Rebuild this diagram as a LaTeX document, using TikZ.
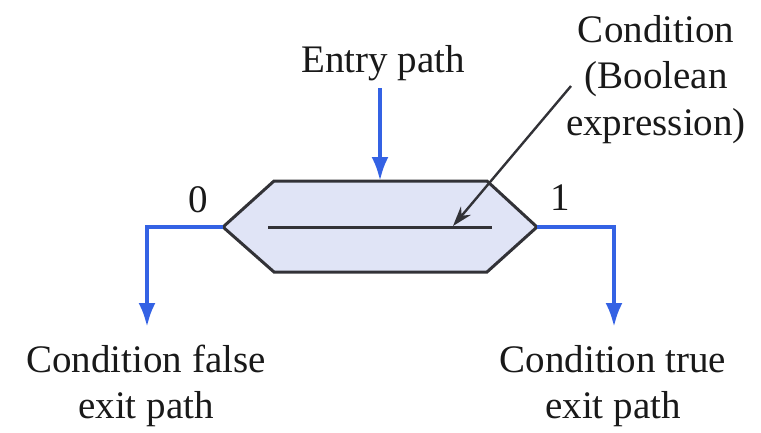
\documentclass[tikz,border=0pt]{standalone}
\usepackage{fontspec}
\setmainfont{Liberation Serif}
\usetikzlibrary{arrows.meta}
\definecolor{flowblue}{RGB}{52,98,228}
\definecolor{hexfill}{RGB}{224,228,246}
\definecolor{hexline}{RGB}{50,50,55}
\definecolor{txt}{RGB}{25,25,25}
\tikzset{
  lbl/.style={anchor=base, inner sep=0pt, text=txt, font=\fontsize{39}{46}\selectfont},
  bluearrow/.style={draw=flowblue, line width=4pt, -{Latex[length=24pt,width=17pt]}},
  hexshape/.style={draw=hexline, fill=hexfill, line width=3pt, line join=miter},
  blackarrow/.style={draw=hexline, line width=2.4pt, -{Stealth[length=20pt,width=13pt]}}
}
\begin{document}
\begin{tikzpicture}[x=1pt,y=-1pt]
\useasboundingbox (0,0) rectangle (761,432);
% hexagon corners
\coordinate (tl) at (274,181);
\coordinate (tr) at (487,181);
\coordinate (rp) at (537,227);
\coordinate (br) at (487,272);
\coordinate (bl) at (274,272);
\coordinate (lp) at (223,227);
\coordinate (top) at (380,181);
\draw[hexshape] (tl) -- (tr) -- (rp) -- (br) -- (bl) -- (lp) -- cycle;
% inner line
\coordinate (inL) at (268,227);
\coordinate (inR) at (492,227);
\coordinate (inTip) at (453,226);
\draw[draw=hexline, line width=3pt] (inL) -- (inR);
% labels
\node[lbl] (entry) at (383,72) {Entry path};
\node[lbl] (cond1) at (656,42) {Condition};
\node[lbl] (cond2) at (656,88.5) {(Boolean};
\node[lbl] (cond3) at (656,135) {expression)};
\node[lbl] (zero) at (198,212) {0};
\node[lbl] (one) at (560,210) {1};
\node[lbl] (f1) at (146,372) {Condition false};
\node[lbl] (f2) at (146,418) {exit path};
\node[lbl] (t1) at (613,372) {Condition true};
\node[lbl] (t2) at (613,418) {exit path};
% connectors
\coordinate (entryStart) at (380,88);
\draw[bluearrow] (entryStart) -- (top);
\coordinate (lcorner) at (147,227);
\coordinate (lend) at (147,327);
\draw[bluearrow, line join=miter] (lp) -- (lcorner) -- (lend);
\coordinate (rcorner) at (614,227);
\coordinate (rend) at (614,327);
\draw[bluearrow, line join=miter] (rp) -- (rcorner) -- (rend);
\coordinate (condStart) at (571,86);
\draw[blackarrow] (condStart) -- (inTip);
\end{tikzpicture}
\end{document}
